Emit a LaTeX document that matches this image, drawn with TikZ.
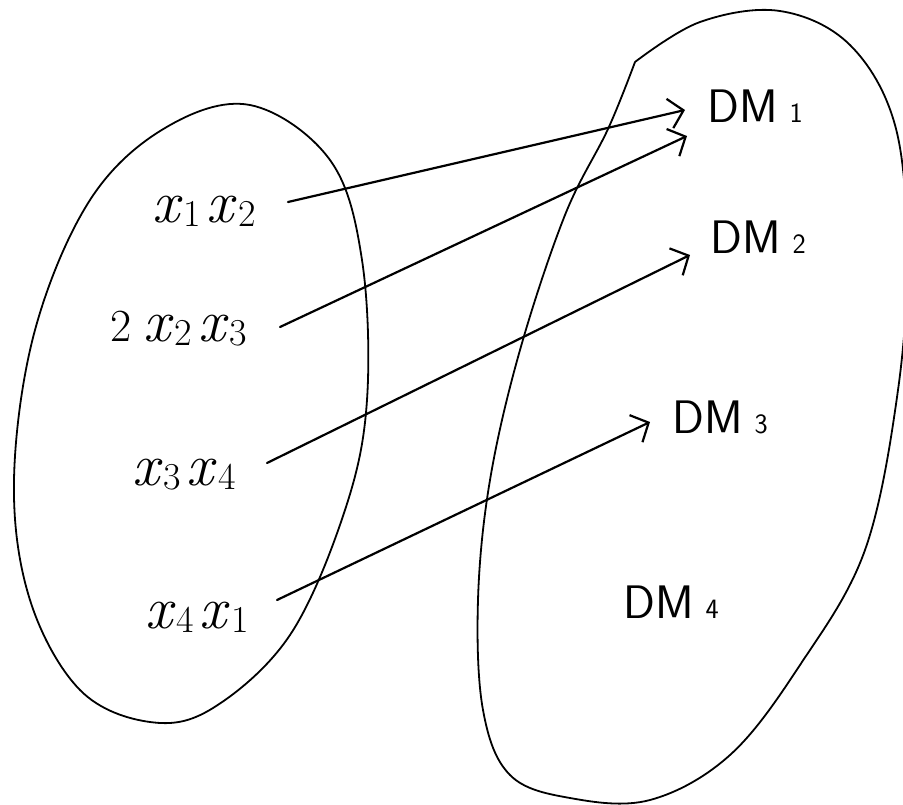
\documentclass[tikz,border=0pt]{standalone}
\usetikzlibrary{arrows.meta}
\newcommand\dmsub[1]{\hspace{12pt}{\fontsize{28}{30}\selectfont #1}}
\newcommand\xv[1]{\textit{x}\hspace{1pt}\raisebox{-4pt}{\fontsize{38}{40}\selectfont #1}}
\begin{document}
\begin{tikzpicture}[x=1pt,y=-1pt,line cap=round,line join=round,
  blob/.style={line width=1.8pt},
  link/.style={line width=2.2pt,-{Straight Barb[length=14pt,width=30pt,line width=2.2pt]}},
  xlab/.style={anchor=base west,inner sep=0pt,font=\fontsize{60}{64}\selectfont},
  dmlab/.style={anchor=base west,inner sep=0pt,font=\sffamily\fontsize{47}{50}\selectfont}]
\useasboundingbox (0,0) rectangle (903,804);

% left set
\draw[blob] plot[smooth cycle,tension=0.6] coordinates {
  (250,105) (330,160) (362,260) (367,400) (345,510) (290,635) (213,708)
  (150,722) (80,690) (30,600) (14,480) (35,330) (90,200) (165,128)};

% right set
\draw[blob] plot[smooth,tension=0.6] coordinates {
  (635,62) (700,22) (780,11) (850,45) (895,125) (907,250) (898,390)
  (865,550) (800,665) (730,755) (650,800) (570,798) (510,775) (483,710)
  (478,600) (490,480) (520,350) (565,215) (608,129) (635,62)};

% labels
\node[xlab] (x12) at (152,222) {\xv{1}\hspace{6pt}\xv{2}};
\node[xlab] (x23) at (110,341) {{\fontsize{46}{48}\selectfont 2}\hspace{12pt}\xv{2}\hspace{6pt}\xv{3}};
\node[xlab] (x34) at (132,485) {\xv{3}\hspace{6pt}\xv{4}};
\node[xlab] (x41) at (145,628) {\xv{4}\hspace{6pt}\xv{1}};

\node[dmlab] (dm1) at (707,122) {DM\dmsub{1}};
\node[dmlab] (dm2) at (710,253) {DM\dmsub{2}};
\node[dmlab] (dm3) at (672,433) {DM\dmsub{3}};
\node[dmlab] (dm4) at (623,618) {DM\dmsub{4}};

% connector ends
\coordinate (a1) at (288,202); \coordinate (b1) at (685,110);
\coordinate (a2) at (280,327); \coordinate (b2) at (687,136);
\coordinate (a3) at (267,463); \coordinate (b3) at (690,255);
\coordinate (a4) at (277,600); \coordinate (b4) at (650,422);

\draw[link] (a1) -- (b1);
\draw[link] (a2) -- (b2);
\draw[link] (a3) -- (b3);
\draw[link] (a4) -- (b4);
\end{tikzpicture}
\end{document}
